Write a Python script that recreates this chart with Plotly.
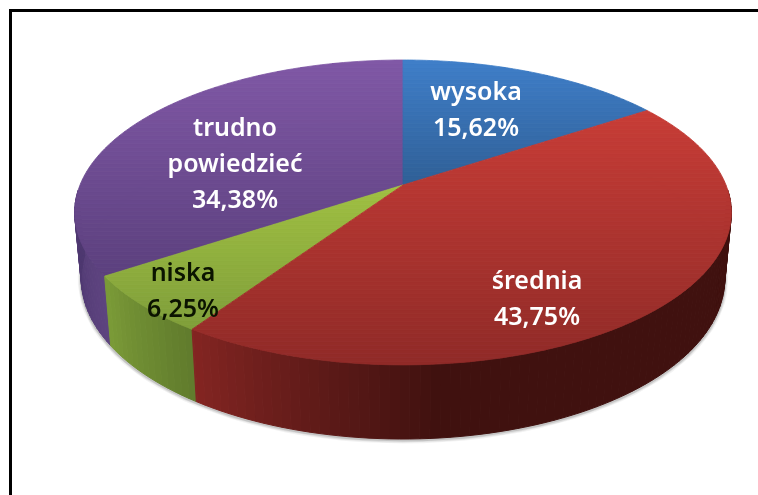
import numpy as np
import plotly.graph_objects as go

categories = ["wysoka", "średnia", "niska", "trudno powiedzieć"]
values = [15.62, 43.75, 6.25, 34.38]
value_labels = ["15,62%", "43,75%", "6,25%", "34,38%"]
label_lines = [["wysoka"], ["średnia"], ["niska"], ["trudno", "powiedzieć"]]

# style and geometry of the tilted disc
W, H = 758, 495
CX, CY, A, B, K = 403, 185, 323, 147.5, 0.18
CX2, CY2, A2, B2 = 403, 250, 316.5, 155
top_grad = [("#3F7EC9", "#2F5F96"), ("#C93D37", "#8F2A27"), ("#A0C042", "#7F9E3A"), ("#8058A6", "#5A3F7C")]
grad_range = [(60, 185), (105, 368), (185, 330), (60, 285)]
wall = {1: [(100, "#40110F"), (175, "#40110F"), (190, "#5A1917"), (214, "#842522")],
        2: [(213, "#5F7A2C"), (237, "#7C9C38")],
        3: [(236, "#5E4480"), (262, "#4E3870")],
        0: [(95, "#40110F"), (101, "#40110F")]}
label_xy = [(476, 94), (537, 283), (183, 275), (235, 130)]
label_col = ["#FFFFFF", "#FFFFFF", "#0B1400", "#FFFFFF"]
LINE = 36


def hx(c):
    return np.array([int(c[i:i + 2], 16) for i in (1, 3, 5)], float)


def mix(a, b, t):
    v = hx(a) * (1 - t) + hx(b) * t
    return "rgb(%d,%d,%d)" % tuple(np.round(v))


def proj(theta, top=True):
    t = np.radians(theta)
    u, v = np.sin(t), -np.cos(t)
    w = 1 - K * v
    if top:
        return CX + A * u / w, CY + B * v / w
    return CX2 + A2 * u / w, CY2 + B2 * v / w


def clip(poly, ymin, ymax):
    def cut(pts, keep, cross):
        out = []
        for i in range(len(pts)):
            p, q = pts[i], pts[(i + 1) % len(pts)]
            if keep(p):
                out.append(p)
            if keep(p) != keep(q):
                s = (cross - p[1]) / (q[1] - p[1])
                out.append((p[0] + s * (q[0] - p[0]), cross))
        return out
    r = cut(poly, lambda p: p[1] >= ymin, ymin)
    if r:
        r = cut(r, lambda p: p[1] <= ymax, ymax)
    return r


fig = go.Figure()


def add_poly(pts, color, lw=1.0, name=None):
    xs = [p[0] for p in pts] + [pts[0][0]]
    ys = [p[1] for p in pts] + [pts[0][1]]
    fig.add_trace(go.Scatter(x=xs, y=ys, mode="lines", fill="toself", fillcolor=color,
                             line=dict(color=color, width=lw, simplify=False),
                             hoverinfo="skip", showlegend=False))


# soft shadow under the disc
ring = [proj(a, False) for a in np.arange(0, 360, 3)]
for lw, al in [(7, 0.05), (5, 0.07), (3, 0.12)]:
    xs = [p[0] for p in ring] + [ring[0][0]]
    ys = [p[1] + 1 for p in ring] + [ring[0][1] + 1]
    fig.add_trace(go.Scatter(x=xs, y=ys, mode="lines", line=dict(color=f"rgba(0,0,0,{al})", width=lw),
                             hoverinfo="skip", showlegend=False))

# angular extents of the slices
total = sum(values)
edges = np.concatenate([[0], np.cumsum(values)]) / total * 360

# rim
for i in [3, 2, 1]:
    a0, a1 = edges[i], edges[i + 1]
    a0, a1 = max(a0, 92), min(a1, 268)
    stops = wall[i]
    sa = [s[0] for s in stops]
    steps = np.arange(a0, a1, 1.5).tolist() + [a1]
    for s0, s1 in zip(steps[:-1], steps[1:]):
        mid = (s0 + s1) / 2
        j = min(np.searchsorted(sa, mid), len(sa) - 1)
        j = max(j, 1)
        f = np.clip((mid - sa[j - 1]) / (sa[j] - sa[j - 1]), 0, 1)
        c = mix(stops[j - 1][1], stops[j][1], f)
        add_poly([proj(s0), proj(s1), proj(s1, False), proj(s0, False)], c, 1.0)

# top faces, banded to give the vertical gradient
for i in [3, 0, 2, 1]:
    a0, a1 = edges[i], edges[i + 1]
    wedge = [(CX, CY)] + [proj(a) for a in np.linspace(a0, a1, 80)]
    y0, y1 = grad_range[i]
    ys = [p[1] for p in wedge]
    bands = np.arange(np.floor(min(ys)) - 0.37, np.ceil(max(ys)) + 4, 4)
    for b0, b1 in zip(bands[:-1], bands[1:]):
        piece = clip(wedge, b0, b1)
        if len(piece) >= 3:
            f = np.clip(((b0 + b1) / 2 - y0) / (y1 - y0), 0, 1)
            add_poly(piece, mix(top_grad[i][0], top_grad[i][1], f), 0.8)

# data labels
for i, lines in enumerate(label_lines):
    rows = list(lines) + [value_labels[i]]
    x0, y0 = label_xy[i]
    fig.add_trace(go.Scatter(
        x=[x0] * len(rows), y=[y0 + LINE * n for n in range(len(rows))], text=rows,
        mode="text", textposition="middle center",
        textfont=dict(family="Noto Sans", size=25, color=label_col[i], weight=600),
        hoverinfo="skip", showlegend=False))

fig.update_layout(
    width=W, height=H, autosize=False, margin=dict(l=0, r=0, t=0, b=0),
    paper_bgcolor="white", plot_bgcolor="white", showlegend=False,
    xaxis=dict(range=[0, W], visible=False, fixedrange=True),
    yaxis=dict(range=[H, 0], visible=False, fixedrange=True),
    shapes=[
        dict(type="line", xref="x", yref="y", x0=10.5, x1=10.5, y0=9, y1=H, line=dict(color="black", width=3)),
        dict(type="line", xref="x", yref="y", x0=9, x1=W, y0=10.5, y1=10.5, line=dict(color="black", width=3)),
    ],
)
fig.write_html(
    "out.html", config=dict(displayModeBar=False),
    post_script="document.body.style.margin='0';document.body.style.overflow='hidden';"
                "document.getElementsByClassName('js-plotly-plot')[0].style.filter='blur(0.6px)';",
)
